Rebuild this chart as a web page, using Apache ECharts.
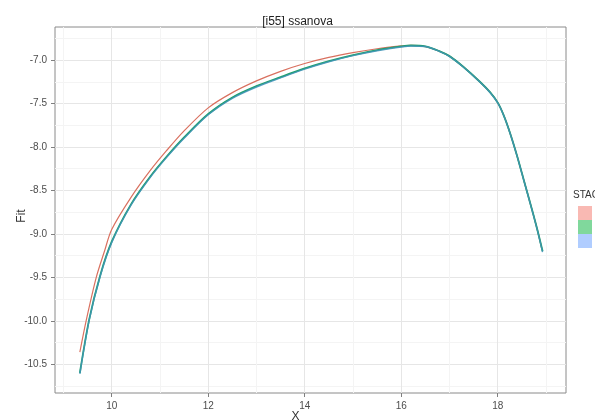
<!DOCTYPE html>
<html>
<head>
<meta charset="utf-8">
<script src="https://cdn.jsdelivr.net/npm/echarts@6/dist/echarts.min.js"></script>
<style>
  html, body { margin: 0; padding: 0; background: #fff; }
  #chart { width: 595px; height: 420px; }
</style>
</head>
<body>
<div id="chart"></div>
<script>
var dom = document.getElementById('chart');
var myChart = echarts.init(dom, null, { renderer: 'canvas' });

// tick positions
var xTicks = [10, 12, 14, 16, 18];
var xMinor = [9, 11, 13, 15, 17, 19];
var yTicks = [-10.5, -10.0, -9.5, -9.0, -8.5, -8.0, -7.5, -7.0];
var yMinor = [-10.75, -10.25, -9.75, -9.25, -8.75, -8.25, -7.75, -7.25, -6.75];

// STAGE 2
var x2 = [9.34, 9.47, 9.68, 9.85, 10.0, 10.4, 10.8, 11.14, 11.5, 12.0, 12.5, 13.0, 13.5, 14.0,
  14.5, 15.0, 15.5, 16.0, 16.2, 16.5, 16.8, 17.0, 17.28, 17.63, 17.84, 18.0, 18.12, 18.25, 18.4, 18.55, 18.7, 18.82, 18.91];
var fit2 = [-10.36, -10.0, -9.5, -9.2, -8.95, -8.58, -8.27, -8.04, -7.815, -7.55, -7.375, -7.24, -7.13, -7.04,
  -6.97, -6.915, -6.87, -6.838, -6.83, -6.845, -6.9, -6.955, -7.075, -7.25, -7.37, -7.49, -7.63, -7.83, -8.1, -8.4, -8.7, -8.95, -9.16];

// STAGE 3
var x3 = [9.34, 9.535, 9.76, 10.0, 10.4, 10.8, 11.14, 11.5, 12.0, 12.5, 13.0, 13.5, 14.0, 14.5,
  15.0, 15.5, 16.0, 16.2, 16.5, 16.8, 17.0, 17.28, 17.63, 17.84, 18.0, 18.12, 18.25, 18.4, 18.55, 18.7, 18.82, 18.93];
var fit3 = [-10.6, -9.98, -9.48, -9.09, -8.66, -8.34, -8.11, -7.89, -7.62, -7.43, -7.3, -7.196, -7.097, -7.013,
  -6.943, -6.886, -6.844, -6.833, -6.842, -6.9, -6.955, -7.075, -7.25, -7.37, -7.49, -7.63, -7.83, -8.1, -8.4, -8.7, -8.95, -9.2];

// STAGE 4
var x4 = [9.34, 9.535, 9.76, 10.0, 10.4, 10.8, 11.14, 11.5, 12.0, 12.5, 13.0, 13.5, 14.0, 14.5,
  15.0, 15.5, 16.0, 16.2, 16.5, 16.8, 17.0, 17.28, 17.63, 17.84, 18.0, 18.12, 18.25, 18.4, 18.55, 18.7, 18.82, 18.93];
var fit4 = [-10.61, -9.99, -9.49, -9.1, -8.67, -8.35, -8.12, -7.9, -7.63, -7.44, -7.31, -7.205, -7.105, -7.02,
  -6.95, -6.893, -6.85, -6.838, -6.845, -6.903, -6.958, -7.078, -7.253, -7.373, -7.493, -7.633, -7.833, -8.103, -8.403, -8.703, -8.953, -9.21];

function pairs(xs, ys) {
  return xs.map(function (v, i) { return [v, ys[i]]; });
}

var font = 'Liberation Sans, Arial, sans-serif';

option = {
  animation: false,
  backgroundColor: '#fff',
  title: {
    text: '[i55] ssanova', left: 'center', top: 11,
    textStyle: { fontSize: 12, fontWeight: 'normal', color: '#222', fontFamily: font }
  },
  grid: {
    left: 55, top: 27, width: 511, height: 366, outerBoundsMode: 'none', containLabel: false,
    show: true, borderColor: '#8a8a8a', borderWidth: 1
  },
  legend: {
    orient: 'vertical', left: 573, top: 201, itemWidth: 14, itemHeight: 14, itemGap: 0,
    icon: 'rect',
    textStyle: { fontSize: 10, color: '#333', fontFamily: font },
    data: [
      { name: '2', itemStyle: { color: '#f9b9b3' } },
      { name: '3', itemStyle: { color: '#80d89c' } },
      { name: '4', itemStyle: { color: '#b0cdff' } }
    ]
  },
  graphic: [
    { type: 'text', left: 573, top: 190, style: { text: 'STAGE', fontSize: 10, fill: '#333', fontFamily: font } }
  ],
  xAxis: [
    {
      type: 'value', min: 8.825, max: 19.415,
      axisLine: { show: false },
      axisTick: { show: true, length: 4, customValues: xTicks, lineStyle: { color: '#7f7f7f' } },
      axisLabel: { customValues: xTicks, color: '#4d4d4d', fontSize: 10, fontFamily: font, margin: 8,
        formatter: function (v) { return String(v); } },
      splitLine: { show: true, lineStyle: { color: '#e6e6e6', width: 1 } },
      name: 'X', nameLocation: 'middle', nameGap: 18, nameMoveOverlap: false,
      nameTextStyle: { color: '#333', fontSize: 12, fontFamily: font, padding: [0, 30, 0, 0] }
    },
    {
      type: 'value', min: 8.825, max: 19.415,
      axisLine: { show: false },
      axisTick: { show: false, customValues: xMinor },
      axisLabel: { show: false, customValues: xMinor },
      splitLine: { show: true, lineStyle: { color: '#f4f4f4', width: 1 } }
    }
  ],
  yAxis: [
    {
      type: 'value', min: -10.83, max: -6.62,
      axisLine: { show: false },
      axisTick: { show: true, length: 4, customValues: yTicks, lineStyle: { color: '#7f7f7f' } },
      axisLabel: { customValues: yTicks, color: '#4d4d4d', fontSize: 10, fontFamily: font, margin: 8,
        formatter: function (v) { return v.toFixed(1); } },
      splitLine: { show: true, lineStyle: { color: '#e6e6e6', width: 1 } },
      name: 'Fit', nameLocation: 'middle', nameGap: 27, nameRotate: 90, nameMoveOverlap: false,
      nameTextStyle: { color: '#333', fontSize: 12, fontFamily: font, padding: [0, 12, 0, 0] }
    },
    {
      type: 'value', min: -10.83, max: -6.62, position: 'left',
      axisLine: { show: false },
      axisTick: { show: false, customValues: yMinor },
      axisLabel: { show: false, customValues: yMinor },
      splitLine: { show: true, lineStyle: { color: '#f4f4f4', width: 1 } }
    }
  ],
  series: [
    {
      name: '2', type: 'line', smooth: 0.3, showSymbol: false, z: 3,
      lineStyle: { color: '#d9705f', width: 1.2 }, itemStyle: { color: '#f9b9b3' },
      data: pairs(x2, fit2)
    },
    {
      name: '3', type: 'line', smooth: 0.3, showSymbol: false, z: 3,
      lineStyle: { color: '#1fa06a', width: 1.8 }, itemStyle: { color: '#80d89c' },
      data: pairs(x3, fit3)
    },
    {
      name: '4', type: 'line', smooth: 0.3, showSymbol: false, z: 4,
      lineStyle: { color: '#3f93b8', width: 1.4, opacity: 0.85 }, itemStyle: { color: '#b0cdff' },
      data: pairs(x4, fit4)
    }
  ]
};

myChart.setOption(option);
window.addEventListener('resize', myChart.resize);
</script>
</body>
</html>
